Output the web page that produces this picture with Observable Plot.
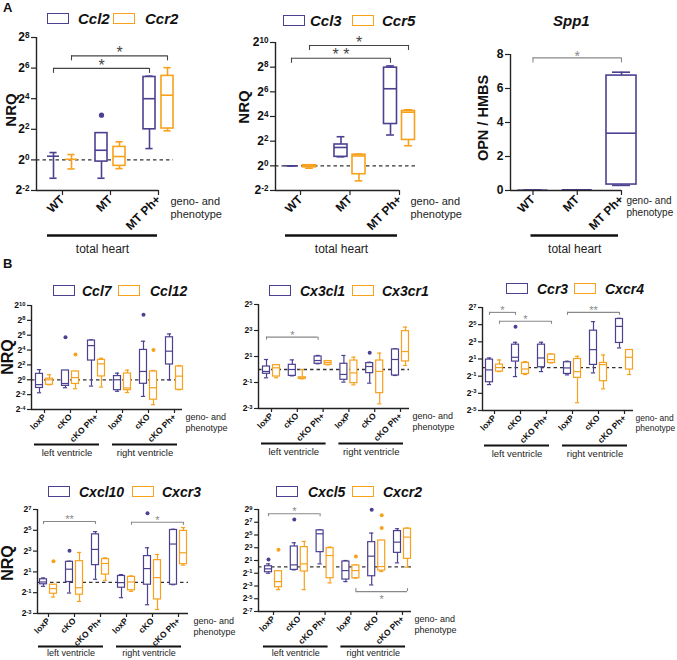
<!DOCTYPE html>
<html><head><meta charset="utf-8">
<script src="https://cdn.jsdelivr.net/npm/d3@7"></script>
<script src="https://cdn.jsdelivr.net/npm/@observablehq/plot@0.6"></script>
<style>
body{margin:0;background:#fff;}
#fig{position:relative;width:677px;height:660px;overflow:hidden;font-family:"Liberation Sans",Arial,sans-serif;color:#111;}
.sw{position:absolute;box-sizing:border-box;border:1.6px solid;width:22px;height:11px;}
.lg{position:absolute;font-weight:bold;font-style:italic;font-size:14px;line-height:14px;white-space:nowrap;}
.yl{position:absolute;font-weight:bold;transform:translate(-50%,-50%) rotate(-90deg);white-space:nowrap;line-height:1;}
.pl{position:absolute;font-weight:bold;font-size:13px;line-height:1;}
</style></head><body><div id="fig"></div><script>
// ---------- colours ----------
const geneColors = ["#4b4191", "#f7a11c"];

// ---------- categories ----------
const aGroups = ["WT", "MT", "MT Ph+"];
const bGroups = ["loxP", "cKO", "cKO Ph+", "loxP", "cKO", "cKO Ph+"];
const aRegions = [["total heart", 0, 2]];
const bRegions = [["left ventricle", 0, 2], ["right ventricle", 3, 5]];

// rows: [group, gene, min, q1, median, q3, max]  (log2 NRQ, Spp1 linear)
// outliers: [group, gene, value]; brackets: [group1, gene1, group2, gene2, level, label, side]

// A1 Ccl2 / Ccr2
const ccl2Genes = ["Ccl2", "Ccr2"];
const ccl2Boxes = [
  [0,0,-1.2,0.24,0.24,0.24,0.48], [0,1,-0.59,0.04,0.04,0.04,0.35],
  [1,0,-1.2,-0.11,0.63,1.75,1.75], [1,1,-0.57,-0.39,0.22,0.85,1.18],
  [2,0,0.74,2.0,4.0,5.42,5.47], [2,1,1.9,2.05,4.23,5.49,6.03]];
const ccl2Outliers = [[1,0,2.92]];
const ccl2Brackets = [[0,0,2,0,5.98,"*"], [0,1,2,1,6.8,"*"]];

// A2 Ccl3 / Ccr5
const ccl3Genes = ["Ccl3", "Ccr5"];
const ccl3Boxes = [
  [0,0,0,0,0,0,0], [0,1,-0.19,-0.12,0,0.05,0.08],
  [1,0,0.73,0.73,1.49,1.73,2.36], [1,1,-1.22,-0.68,0.8,0.9,0.95],
  [2,0,2.5,3.39,6.25,7.96,8.1], [2,1,1.63,2.1,4.35,4.45,4.55]];
const ccl3Outliers = [];
const ccl3Brackets = [[0,0,2,0,8.72,"* *"], [0,1,2,1,9.76,"*"]];

// A3 Spp1 (OPN / HMBS, linear)
const spp1Genes = ["Spp1"];
const spp1Boxes = [
  [0,0,0.02,0.02,0.02,0.02,0.02], [1,0,0.04,0.04,0.04,0.04,0.04],
  [2,0,0.3,0.35,3.37,6.76,6.96]];
const spp1Outliers = [];
const spp1Brackets = [[0,0,2,0,7.8,"*"]];

// B1 Ccl7 / Ccl12
const ccl7Genes = ["Ccl7", "Ccl12"];
const ccl7Boxes = [
  [0,0,-1.75,-1.1,-0.65,0.8,1.37], [0,1,-0.67,-0.67,0,0.15,0.68],
  [1,0,-1.07,-0.82,-0.5,1.25,1.25], [1,1,-1.2,-0.56,0.3,1.12,1.12],
  [2,0,-0.85,2.59,4.6,5.28,5.37], [2,1,-0.98,0.45,2.15,2.68,2.9],
  [3,0,-1.55,-1.4,0,0.5,0.89], [3,1,-1.72,-1.4,-1.1,0.85,1.3],
  [4,0,-2.24,-0.54,1.12,4.02,5.19], [4,1,-3.35,-2.68,-1.07,1.12,1.25],
  [5,0,0,2.06,3.85,5.72,6.17], [5,1,-1.34,-1.34,0.49,1.79,1.92]];
const ccl7Outliers = [[1,0,5.72],[1,1,3.4],[4,0,8.77],[4,1,4.02]];
const ccl7Brackets = [];

// B2 Cx3cl1 / Cx3cr1
const cx3Genes = ["Cx3cl1", "Cx3cr1"];
const cx3Boxes = [
  [0,0,-0.64,-0.33,-0.15,0.23,0.77], [0,1,-0.64,-0.54,0.13,0.33,0.33],
  [1,0,-0.49,-0.49,0,0.36,0.74], [1,1,-0.72,-0.72,-0.66,-0.6,0],
  [2,0,0.44,0.44,0.69,1.0,1.08], [2,1,0.36,0.36,0.54,0.64,0.69],
  [3,0,-0.97,-0.79,-0.38,0.44,1.08], [3,1,-1.18,-1.05,-0.26,0.69,0.95],
  [4,0,-1.05,-0.28,0.23,0.49,0.56], [4,1,-2.64,-1.82,-0.15,0.69,1.26],
  [5,0,-0.46,-0.46,0.77,1.54,1.59], [5,1,0.31,0.62,1.38,2.95,3.26]];
const cx3Outliers = [[4,0,1.28]];
const cx3Brackets = [[0,0,2,0,2.49,"*"]];

// B3 Ccr3 / Cxcr4
const ccr3Genes = ["Ccr3", "Cxcr4"];
const ccr3Boxes = [
  [0,0,-1.98,-1.71,-0.27,0.93,1.12], [0,1,-0.47,-0.47,0,0.35,0.89],
  [1,0,-1.05,0.7,1.2,2.67,2.95], [1,1,-0.81,-0.74,-0.16,0.54,0.7],
  [2,0,-0.47,0.04,1.12,2.67,2.95], [2,1,0.54,0.54,0.93,1.51,1.59],
  [3,0,-0.85,-0.74,-0.04,0.62,0.74], [3,1,-4.1,-1.2,-0.47,1.0,1.32],
  [4,0,-0.62,0.31,2.09,4.3,5.35], [4,1,-2.48,-1.59,0.35,0.54,1.47],
  [5,0,2.29,2.87,4.8,5.66,5.74], [5,1,-0.81,-0.23,1.2,2.05,2.09]];
const ccr3Outliers = [[1,0,4.77]];
const ccr3Brackets = [[0,0,1,0,6.43,"*"], [0,1,2,1,5.39,"*"], [3,0,5,0,6.43,"**"]];

// B4 Cxcl10 / Cxcr3
const cxcl10Genes = ["Cxcl10", "Cxcr3"];
const cxcl10Boxes = [
  [0,0,-0.39,-0.19,0.03,0.29,0.42], [0,1,-1.42,-1.1,-0.61,-0.23,-0.23],
  [1,0,-1.03,0.03,1.26,1.97,2.03], [1,1,-1.84,-1.19,-0.52,2.03,2.87],
  [2,0,0.29,1.65,3.16,4.61,4.87], [2,1,0.19,0.74,1.81,2.23,2.35],
  [3,0,-1.48,-0.52,-0.03,0.61,0.74], [3,1,-0.87,-0.77,0.03,0.52,0.61],
  [4,0,-2.16,-0.23,1.32,2.52,3.32], [4,1,-2.61,-1.65,0.45,2.13,2.68],
  [5,0,-0.23,-0.23,3.68,5.03,5.1], [5,1,1.65,1.74,2.84,4.94,5.26]];
const cxcl10Outliers = [[0,1,2.03],[1,0,3.03],[4,0,6.65]];
const cxcl10Brackets = [[0,0,2,0,5.84,"**"], [3,1,5,1,5.77,"*"]];

// B5 Cxcl5 / Cxcr2
const cxcl5Genes = ["Cxcl5", "Cxcr2"];
const cxcl5Boxes = [
  [0,0,-1.0,-0.84,-0.31,0.1,0.47], [0,1,-3.57,-3.2,-2.31,-0.68,-0.68],
  [1,0,-0.47,-0.47,0.31,3.2,3.78], [1,1,-3.57,-0.73,0.47,3.1,3.99],
  [2,0,0.47,2.31,5.19,5.72,5.82], [2,1,-2.52,-1.78,1.78,2.94,3.1],
  [3,0,-2.31,-1.99,-0.58,0.84,1.0], [3,1,-1.78,-1.78,-0.58,0.21,0.31],
  [4,0,-2.83,-1.47,1.68,3.88,5.3], [4,1,-0.73,-0.58,0.05,4.14,4.14],
  [5,0,0.63,2.2,3.88,5.61,5.98], [5,1,-0.05,1.26,4.67,5.98,6.09]];
const cxcl5Outliers = [[0,0,1.15],[0,1,2.68],[1,0,7.45],[3,1,1.63],[4,0,8.97],[4,1,8.08],[4,1,6.09]];
const cxcl5Brackets = [[0,0,2,0,8.34,"*"], [3,1,5,1,-3.88,"*","below"]];

// ---------- styles ----------
const styleA = {boxW:12, dodge:9, sw:1.6, dotR:2.6, tickFont:12, xFont:12, tickSize:5, drop:5, starSize:16, starDy:-3, brColor:"#444",
  barDy:45, barTextDy:59, barW:2.6, regionFont:12, genoFont:11, genoDx:12, genoDy:5, barPad:[15,-1]};
const styleB = {boxW:7, dodge:5, sw:1.2, dotR:2, tickFont:8.5, xFont:8.5, tickSize:4, drop:3, starSize:11, starDy:-2, brColor:"#888",
  barDy:35, barTextDy:43, barW:2.2, regionFont:9.5, genoFont:9, genoDx:3, genoDy:3, barPad:[10,3]};

function boxPanel(p) {
  const toU = px => (px - p.c0) / p.step;
  const xd = [toU(p.frameL), toU(p.frameR)];
  const yv = p.log ? (e => 2 ** e) : (e => e);
  const nG = p.genes.length;
  const dU = p.dodge / p.step, hw = p.boxW / 2 / p.step, cw = hw * 0.6;
  const xOf = (g, k) => g + (nG > 1 ? (k ? dU : -dU) : 0);
  const rows = p.boxes.map(r => ({x: xOf(r[0], r[1]), c: geneColors[r[1]], min: yv(r[2]), q1: yv(r[3]), med: yv(r[4]), q3: yv(r[5]), max: yv(r[6])}));
  const outs = p.outliers.map(r => ({x: xOf(r[0], r[1]), c: geneColors[r[1]], y: yv(r[2])}));
  const pxPerUnit = (p.frameB - p.frameT) / (p.yDomain[1] - p.yDomain[0]);
  const br = p.brackets.map(b => {
    const below = b[6] === "below";
    const dropE = (below ? -1 : 1) * p.drop / pxPerUnit;
    return {x1: xOf(b[0], b[1]), x2: xOf(b[2], b[3]), y: yv(b[4]), yEnd: yv(b[4] - dropE), label: b[5], below};
  });
  const ylo = yv(p.yDomain[0]);
  const axisEndU = toU(p.axisEnd);
  const padL = p.barPad[0] / p.step, padR = p.barPad[1] / p.step;
  const regions = p.regions.map(r => ({label: r[0], x1: r[1] - padL, x2: r[2] + padR}));
  const sc = {stroke: "c", strokeWidth: p.sw};
  const marks = [];
  if (p.log) marks.push(Plot.ruleY([1], {x1: xd[0], x2: toU(p.dashEnd), stroke: "#333", strokeWidth: 1.3, strokeDasharray: "3.5,3"}));
  marks.push(
    Plot.ruleX(rows, {x: "x", y1: "min", y2: "max", ...sc}),
    Plot.ruleY(rows, {y: "max", x1: d => d.x - cw, x2: d => d.x + cw, ...sc}),
    Plot.ruleY(rows, {y: "min", x1: d => d.x - cw, x2: d => d.x + cw, ...sc}),
    Plot.rect(rows, {x1: d => d.x - hw, x2: d => d.x + hw, y1: "q1", y2: "q3", fill: "white", ...sc}),
    Plot.ruleY(rows, {y: "med", x1: d => d.x - hw, x2: d => d.x + hw, ...sc}),
    Plot.dot(outs, {x: "x", y: "y", r: p.dotR, fill: "c", strokeWidth: 0}),
    Plot.ruleY(br, {y: "y", x1: "x1", x2: "x2", stroke: p.brColor, strokeWidth: 1.1}),
    Plot.ruleX(br, {x: "x1", y1: "y", y2: "yEnd", stroke: p.brColor, strokeWidth: 1.1}),
    Plot.ruleX(br, {x: "x2", y1: "y", y2: "yEnd", stroke: p.brColor, strokeWidth: 1.1}),
    Plot.text(br.filter(d => !d.below), {x: d => (d.x1 + d.x2) / 2, y: "y", text: "label", dy: p.starDy, fontSize: p.starSize, fill: p.brColor}),
    Plot.text(br.filter(d => d.below), {x: d => (d.x1 + d.x2) / 2, y: "y", text: "label", dy: p.starSize * 0.75, fontSize: p.starSize, fill: p.brColor}),
    Plot.ruleX([xd[0]], {stroke: "#222", strokeWidth: 1.4}),
    Plot.ruleY([ylo], {x1: xd[0], x2: axisEndU, stroke: "#222", strokeWidth: 1.4}),
    Plot.axisY({ticks: p.yTicks.map(yv), tickFormat: p.log ? (v => "2^" + Math.round(Math.log2(v))) : (v => String(v)),
      tickSize: p.tickSize, tickPadding: 2, fontSize: p.tickFont, fontWeight: "bold", label: null, stroke: "#222", strokeWidth: 1.2}),
    Plot.axisX({ticks: d3.range(p.groups.length), tickFormat: i => p.groups[i], tickRotate: -45, tickSize: p.tickSize, tickPadding: 2,
      fontSize: p.xFont, fontWeight: "bold", label: null, stroke: "#222", strokeWidth: 1.2}),
    Plot.ruleY(regions, {y: () => ylo, x1: "x1", x2: "x2", dy: p.barDy, stroke: "#111", strokeWidth: p.barW}),
    Plot.text(regions, {x: d => (d.x1 + d.x2) / 2, y: () => ylo, dy: p.barTextDy, text: "label", fontSize: p.regionFont, fill: "#222"}),
    Plot.text(["geno- and\nphenotype"], {x: () => axisEndU, y: () => ylo, text: d => d, dx: p.genoDx, dy: p.genoDy,
      textAnchor: "start", lineAnchor: "top", fontSize: p.genoFont, lineHeight: 1.2, fill: "#222"})
  );
  const svg = Plot.plot({
    width: p.width, height: p.height,
    marginLeft: p.frameL - p.left, marginRight: p.left + p.width - p.frameR,
    marginTop: p.frameT - p.top, marginBottom: p.top + p.height - p.frameB,
    x: {type: "linear", domain: xd},
    y: p.log ? {type: "log", base: 2, domain: [2 ** p.yDomain[0], 2 ** p.yDomain[1]]} : {type: "linear", domain: p.yDomain},
    color: {type: "identity"},
    style: {background: "transparent", overflow: "visible", fontFamily: '"Liberation Sans", Arial, sans-serif', fontSize: "10px", maxWidth: "none"},
    marks
  });
  // superscript exponents
  svg.querySelectorAll("text").forEach(t => {
    const m = t.textContent.match(/^2\^(-?\d+)$/);
    if (m) {
      t.textContent = "2";
      const ts = document.createElementNS("http://www.w3.org/2000/svg", "tspan");
      ts.setAttribute("dy", "-0.45em");
      ts.setAttribute("font-size", "0.68em");
      ts.textContent = m[1];
      t.appendChild(ts);
    }
  });
  svg.style.position = "absolute";
  svg.style.left = p.left + "px";
  svg.style.top = p.top + "px";
  return svg;
}

const panels = [
  {...styleA, left:0, top:25, width:230, height:240, frameL:36, frameR:158, frameT:37, frameB:190, c0:62, step:48, axisEnd:158, dashEnd:173,
    yDomain:[-2,8], yTicks:[-2,0,2,4,6,8], log:true, groups:aGroups, regions:aRegions, genes:ccl2Genes, boxes:ccl2Boxes, outliers:ccl2Outliers, brackets:ccl2Brackets},
  {...styleA, boxW:13, left:232, top:25, width:225, height:240, frameL:275, frameR:399, frameT:42, frameB:190, c0:300, step:49.5, axisEnd:399, dashEnd:417,
    yDomain:[-2,10], yTicks:[-2,0,2,4,6,8,10], log:true, groups:aGroups, regions:aRegions, genes:ccl3Genes, boxes:ccl3Boxes, outliers:ccl3Outliers, brackets:ccl3Brackets, genoDx:11, barPad:[15,-2]},
  {...styleA, boxW:30, brColor:"#888", left:457, top:25, width:220, height:240, frameL:510, frameR:621, frameT:54, frameB:190, c0:532.5, step:44.25, axisEnd:621, dashEnd:621,
    yDomain:[0,8], yTicks:[0,2,4,6,8], log:false, groups:aGroups, regions:aRegions, genes:spp1Genes, boxes:spp1Boxes, outliers:spp1Outliers, brackets:spp1Brackets, genoDx:5, genoFont:10, barPad:[2,-3], starDy:-1, starSize:14},
  {...styleB, left:0, top:293, width:228, height:175, frameL:31, frameR:182, frameT:305, frameB:409, c0:44, step:26, axisEnd:182, dashEnd:182,
    yDomain:[-4,10], yTicks:[-4,-2,0,2,4,6,8,10], log:true, groups:bGroups, regions:bRegions, genes:ccl7Genes, boxes:ccl7Boxes, outliers:ccl7Outliers, brackets:ccl7Brackets},
  {...styleB, left:228, top:293, width:224, height:175, frameL:258, frameR:409, frameT:304, frameB:408, c0:271, step:25.8, axisEnd:409, dashEnd:409,
    yDomain:[-3,5], yTicks:[-3,-1,1,3,5], log:true, groups:bGroups, regions:bRegions, genes:cx3Genes, boxes:cx3Boxes, outliers:cx3Outliers, brackets:cx3Brackets},
  {...styleB, left:452, top:293, width:225, height:175, frameL:482, frameR:633, frameT:307, frameB:410, c0:494, step:26, axisEnd:633, dashEnd:633,
    yDomain:[-5,7], yTicks:[-5,-3,-1,1,3,5,7], log:true, groups:bGroups, regions:bRegions, genes:ccr3Genes, boxes:ccr3Boxes, outliers:ccr3Outliers, brackets:ccr3Brackets, genoDx:2, genoFont:8.5},
  {...styleB, left:0, top:498, width:228, height:162, frameL:37, frameR:188, frameT:509, frameB:613, c0:48, step:26, axisEnd:188, dashEnd:188,
    yDomain:[-3,7], yTicks:[-3,-1,1,3,5,7], log:true, groups:bGroups, regions:bRegions, genes:cxcl10Genes, boxes:cxcl10Boxes, outliers:cxcl10Outliers, brackets:cxcl10Brackets, genoDx:5,
    barDy:33, barTextDy:40, regionFont:9},
  {...styleB, left:228, top:498, width:224, height:162, frameL:258, frameR:411, frameT:509, frameB:611, c0:273, step:25.8, axisEnd:411, dashEnd:411,
    yDomain:[-7,9], yTicks:[-7,-5,-3,-1,1,3,5,7,9], log:true, groups:bGroups, regions:bRegions, genes:cxcl5Genes, boxes:cxcl5Boxes, outliers:cxcl5Outliers, brackets:cxcl5Brackets,
    barDy:35, barTextDy:42, regionFont:9}
];

const fig = document.getElementById("fig");
panels.forEach(p => fig.appendChild(boxPanel(p)));

// legends: [swatchLeft, swatchTop, textLeft] per gene
function legend(genes, pos, size) {
  genes.forEach((g, i) => {
    const [sx, sy, tx] = pos[i];
    const s = document.createElement("div");
    s.className = "sw"; s.style.left = sx + "px"; s.style.top = sy + "px"; s.style.borderColor = geneColors[i];
    fig.appendChild(s);
    const t = document.createElement("div");
    t.className = "lg"; t.textContent = g; t.style.left = tx + "px"; t.style.top = (sy - 1.5) + "px";
    if (size) t.style.fontSize = size + "px";
    fig.appendChild(t);
  });
}
legend(ccl2Genes, [[47,13,78],[113,13,145]], 15);
legend(ccl3Genes, [[283,15,310],[352,15,382]], 15);
legend(ccl7Genes, [[53,285,82],[118,285,150]]);
legend(cx3Genes, [[269,285,300],[352,285,382]]);
legend(ccr3Genes, [[506,283,537],[574,283,605]]);
legend(cxcl10Genes, [[48,486,79],[132,486,162]]);
legend(cxcl5Genes, [[276,486,308],[352,486,383]]);

function label(text, cls, x, y, size, extra) {
  const d = document.createElement("div");
  d.className = cls; d.textContent = text;
  d.style.left = x + "px"; d.style.top = y + "px"; d.style.fontSize = size + "px";
  if (extra) Object.assign(d.style, extra);
  fig.appendChild(d);
}
label("A", "pl", 3, 1, 13);
label("B", "pl", 3, 257, 13);
label("Spp1", "lg", 553, 14, 15);
label("NRQ", "yl", 10, 110, 15);
label("NRQ", "yl", 243, 107, 15);
label("OPN / HMBS", "yl", 483, 118, 14.5);
label("NRQ", "yl", 8, 357, 16);
label("NRQ", "yl", 8, 563, 16);
</script></body></html>
